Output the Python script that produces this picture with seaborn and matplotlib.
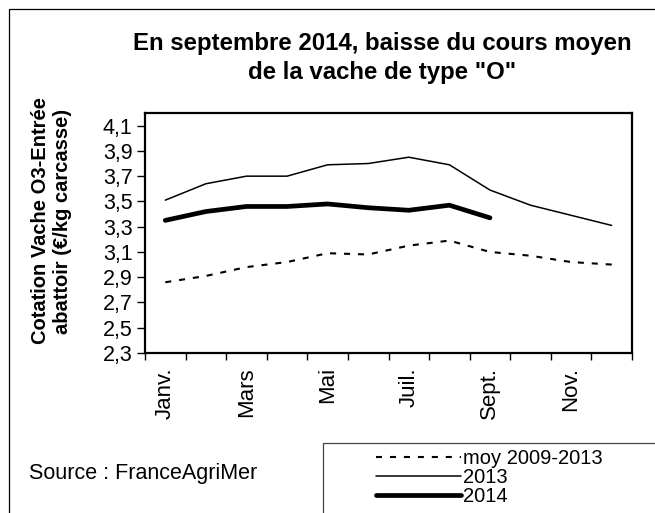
import matplotlib

matplotlib.use("Agg")
import matplotlib.pyplot as plt
import seaborn as sns
from matplotlib.patches import Rectangle
from matplotlib.ticker import FixedLocator, FuncFormatter

# ----------------------------------------------------------------------
# Data
# ----------------------------------------------------------------------
months = ["Janv.", "Févr.", "Mars", "Avr.", "Mai", "Juin",
          "Juil.", "Août", "Sept.", "Oct.", "Nov.", "Déc."]
moy_2009_2013 = [2.86, 2.91, 2.98, 3.02, 3.09, 3.08,
                 3.15, 3.19, 3.10, 3.07, 3.02, 3.00]
cours_2013 = [3.51, 3.64, 3.70, 3.70, 3.79, 3.80,
              3.85, 3.79, 3.59, 3.47, 3.39, 3.31]
cours_2014 = [3.35, 3.42, 3.46, 3.46, 3.48, 3.45, 3.43, 3.47, 3.37]
y_ticks = [2.3, 2.5, 2.7, 2.9, 3.1, 3.3, 3.5, 3.7, 3.9, 4.1]

sns.set_style("white")
plt.rcParams["font.family"] = ["Liberation Sans", "DejaVu Sans"]
plt.rcParams.update({"text.color": "black", "axes.labelcolor": "black",
                     "xtick.color": "black", "ytick.color": "black"})

W, H = 655, 513
fig = plt.figure(figsize=(W / 100, H / 100), dpi=100)
ax = fig.add_axes([145 / W, 1 - 353 / H, (632 - 145) / W, (353 - 113) / H])

x_all = list(range(len(months)))
sns.lineplot(x=x_all, y=moy_2009_2013, ax=ax, color="black", lw=1.5,
             linestyle=(0, (2.9, 3.8)), label="moy 2009-2013")
sns.lineplot(x=x_all, y=cours_2013, ax=ax, color="black", lw=1.1,
             label="2013")
sns.lineplot(x=x_all[:len(cours_2014)], y=cours_2014, ax=ax, color="black",
             lw=3.4, solid_capstyle="round", label="2014")

ax.set_xlim(-0.5, len(months) - 0.5)
ax.set_ylim(2.3, 4.2)

# x: labels every other month, ticks between categories
ax.xaxis.set_major_locator(FixedLocator(x_all[::2]))
ax.set_xticklabels(months[::2], rotation=90)
ax.xaxis.set_minor_locator(FixedLocator([i - 0.5 for i in range(len(months) + 1)]))
ax.tick_params(axis="x", which="major", length=0, pad=10, labelsize=16)
ax.tick_params(axis="x", which="minor", length=5, width=1, color="black",
               bottom=True)

ax.yaxis.set_major_locator(FixedLocator(y_ticks))
ax.yaxis.set_major_formatter(FuncFormatter(lambda v, p: f"{v:.1f}".replace(".", ",")))
ax.tick_params(axis="y", length=6, width=1, color="black", left=True,
               pad=3, labelsize=15.5)

for s in ax.spines.values():
    s.set_color("black")
    s.set_linewidth(1.6)

ax.set_xlabel("")
ax.set_ylabel("Cotation Vache O3-Entrée\nabattoir (€/kg carcasse)",
              fontsize=14.5, fontweight="bold", linespacing=1.2)
ax.yaxis.set_label_coords(-0.15, 0.55)

ax.get_legend().remove()

# title
fig.text(382 / W, 1 - 58 / H,
         'En septembre 2014, baisse du cours moyen\nde la vache de type "O"',
         ha="center", va="center", fontsize=17.3, fontweight="bold",
         linespacing=1.35)

# source
fig.text(29 / W, 1 - 473 / H, "Source : FranceAgriMer", ha="left",
         va="center", fontsize=15.5)

# outer frame and legend box (both run off the canvas)
fig.patches.append(Rectangle((9 / W, -0.2), 1.2, 1.2 - 9 / H,
                             transform=fig.transFigure, fill=False,
                             edgecolor="black", lw=0.9))
fig.patches.append(Rectangle((323 / W, -0.2), 1.0, 0.2 + 1 - 443 / H,
                             transform=fig.transFigure, fill=False,
                             edgecolor="#444444", lw=0.9))

handles, labels = ax.get_legend_handles_labels()
fig.legend(handles, labels, loc="upper left",
           bbox_to_anchor=(376 / W, 1 - 449 / H), frameon=False,
           fontsize=14.5, handlelength=4.2, handletextpad=0.1,
           labelspacing=0.0, borderpad=0, borderaxespad=0)

fig.savefig("out.png", dpi=100)
